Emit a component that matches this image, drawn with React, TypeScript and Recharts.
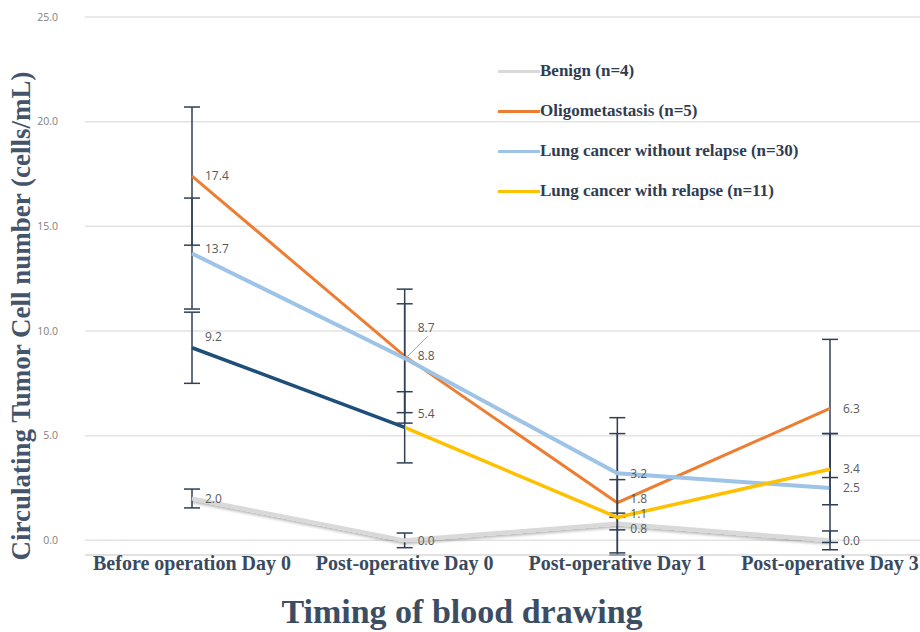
import {
  LineChart,
  Line,
  XAxis,
  YAxis,
  CartesianGrid,
  ErrorBar,
  LabelList,
} from 'recharts';

const categories = [
  'Before operation Day 0',
  'Post-operative Day 0',
  'Post-operative Day 1',
  'Post-operative Day 3',
];

const benign = [2.0, 0.0, 0.8, 0.0];
const oligo = [17.4, 8.8, 1.8, 6.3];
const noRelapse = [13.7, 8.7, 3.2, 2.5];
const relapse = [9.2, 5.4, 1.1, 3.4];

// error bars (symmetric, or [low, high])
const benignErr = [0.45, 0.35, 0.3, 0.45];
const oligoErr: Array<number | [number, number]> = [3.3, 3.2, [2.4, 4.06], 3.3];
const noRelapseErr = [2.65, 2.6, 1.9, 2.6];
const relapseErr = [1.7, 1.7, 1.8, 1.7];

const yTicks = [0, 5, 10, 15, 20, 25];

const legendItems = [
  { name: 'Benign (n=4)', color: '#d9d9d9' },
  { name: 'Oligometastasis (n=5)', color: '#ed7d31' },
  { name: 'Lung cancer without relapse (n=30)', color: '#9dc3e6' },
  { name: 'Lung cancer with relapse (n=11)', color: '#ffc000' },
];

// vertical nudges of the value labels, so they don't sit on top of each other
const labelDy: Record<string, number[]> = {
  benign: [0, 0, 5, 0],
  oligo: [0, 0, -4, 0],
  noRelapse: [-5, -30, 0, 0],
  relapse: [-11, -14, -4, 0],
};

const data = categories.map((cat, i) => ({
  cat,
  benign: benign[i],
  oligo: oligo[i],
  noRelapse: noRelapse[i],
  relapse: relapse[i],
  benignErr: benignErr[i],
  oligoErr: oligoErr[i],
  noRelapseErr: noRelapseErr[i],
  relapseErr: relapseErr[i],
}));

const serif = '"Liberation Serif", "Times New Roman", serif';
const sans = '"Open Sans", "Noto Sans", sans-serif';

function valueLabel(key: string) {
  return (props: any) => {
    const { x, y, value, index } = props;
    const dy = labelDy[key][index] ?? 0;
    const lx = x + 13;
    const ly = y + dy;
    return (
      <g>
        {dy <= -20 && (
          <line x1={x + 3} y1={y - 2} x2={lx + 10} y2={ly + 8} stroke="#a6a6a6" strokeWidth={1} />
        )}
        <text
          x={lx}
          y={ly}
          dy="0.35em"
          fontFamily={sans}
          fontSize={12}
          fill="#595959"
          textAnchor="start"
        >
          {Number(value).toFixed(1)}
        </text>
      </g>
    );
  };
}

function CategoryTick(props: any) {
  const { x, payload } = props;
  return (
    <text
      x={x}
      y={570}
      textAnchor="middle"
      fontFamily={serif}
      fontWeight="bold"
      fontSize={20}
      fill="#3a4a5e"
    >
      {payload.value}
    </text>
  );
}

function LegendBox() {
  return (
    <div
      style={{
        position: 'absolute',
        left: 498,
        top: 51,
        display: 'flex',
        flexDirection: 'column',
      }}
    >
      {legendItems.map((it) => (
        <div key={it.name} style={{ display: 'flex', alignItems: 'center', height: 40 }}>
          <span
            style={{
              display: 'inline-block',
              width: 42,
              height: 3,
              background: it.color,
            }}
          />
          <span
            style={{
              fontFamily: serif,
              fontWeight: 'bold',
              fontSize: 17,
              color: '#2f3d50',
              whiteSpace: 'nowrap',
            }}
          >
            {it.name}
          </span>
        </div>
      ))}
    </div>
  );
}

export default function App() {
  return (
    <div style={{ position: 'absolute', left: 0, top: 0, width: 920, height: 632, background: '#fff' }}>
      <LineChart
        width={920}
        height={632}
        data={data}
        margin={{ top: 17, right: 0, bottom: 0, left: 0 }}
      >
        <defs>
          <linearGradient id="relapseGrad" x1="0" y1="0" x2="1" y2="0">
            <stop offset="0" stopColor="#1f4e79" />
            <stop offset="0.3333" stopColor="#1f4e79" />
            <stop offset="0.3333" stopColor="#ffc000" />
            <stop offset="1" stopColor="#ffc000" />
          </linearGradient>
          <filter id="benignShadow" x="-10%" y="-50%" width="120%" height="200%">
            <feDropShadow dx="0" dy="2" stdDeviation="1.5" floodColor="#000" floodOpacity="0.3" />
          </filter>
        </defs>
        <CartesianGrid vertical={false} stroke="#e3e3e3" strokeWidth={1.5} />
        <XAxis
          dataKey="cat"
          height={77}
          padding={{ left: 107, right: 90 }}
          axisLine={{ stroke: '#d9d9d9' }}
          tickLine={false}
          tick={<CategoryTick />}
          interval={0}
          label={{
            content: () => (
              <text
                x={462}
                y={623}
                textAnchor="middle"
                fontFamily={serif}
                fontWeight="bold"
                fontSize={34}
                fill="#3b4d63"
              >
                Timing of blood drawing
              </text>
            ),
          }}
        />
        <YAxis
          width={85}
          domain={[0, 25]}
          ticks={yTicks}
          axisLine={false}
          tickLine={false}
          tickMargin={21}
          tick={{ fontSize: 10.5, fill: '#808080', fontFamily: sans }}
          tickFormatter={(v: number) => v.toFixed(1)}
          label={{
            content: () => (
              <text
                x={30}
                y={316}
                transform="rotate(-90 30 316)"
                textAnchor="middle"
                fontFamily={serif}
                fontWeight="bold"
                fontSize={27}
                fill="#44546a"
              >
                Circulating Tumor Cell number (cells/mL)
              </text>
            ),
          }}
        />
        <Line
          dataKey="benign"
          name="Benign (n=4)"
          stroke="#d9d9d9"
          strokeWidth={4}
          dot={false}
          filter="url(#benignShadow)"
          isAnimationActive={false}
        >
          <ErrorBar dataKey="benignErr" direction="y" width={8} stroke="#2f3f55" strokeWidth={1.5} />
          <LabelList dataKey="benign" content={valueLabel('benign')} />
        </Line>
        <Line
          dataKey="oligo"
          name="Oligometastasis (n=5)"
          stroke="#ed7d31"
          strokeWidth={3}
          dot={false}
          isAnimationActive={false}
        >
          <ErrorBar dataKey="oligoErr" direction="y" width={8} stroke="#2f3f55" strokeWidth={1.5} />
          <LabelList dataKey="oligo" content={valueLabel('oligo')} />
        </Line>
        <Line
          dataKey="noRelapse"
          name="Lung cancer without relapse (n=30)"
          stroke="#9dc3e6"
          strokeWidth={4}
          dot={false}
          isAnimationActive={false}
        >
          <ErrorBar dataKey="noRelapseErr" direction="y" width={8} stroke="#2f3f55" strokeWidth={1.5} />
          <LabelList dataKey="noRelapse" content={valueLabel('noRelapse')} />
        </Line>
        <Line
          dataKey="relapse"
          name="Lung cancer with relapse (n=11)"
          stroke="url(#relapseGrad)"
          strokeWidth={3.5}
          dot={false}
          isAnimationActive={false}
        >
          <ErrorBar dataKey="relapseErr" direction="y" width={8} stroke="#2f3f55" strokeWidth={1.5} />
          <LabelList dataKey="relapse" content={valueLabel('relapse')} />
        </Line>
      </LineChart>
      <LegendBox />
    </div>
  );
}
